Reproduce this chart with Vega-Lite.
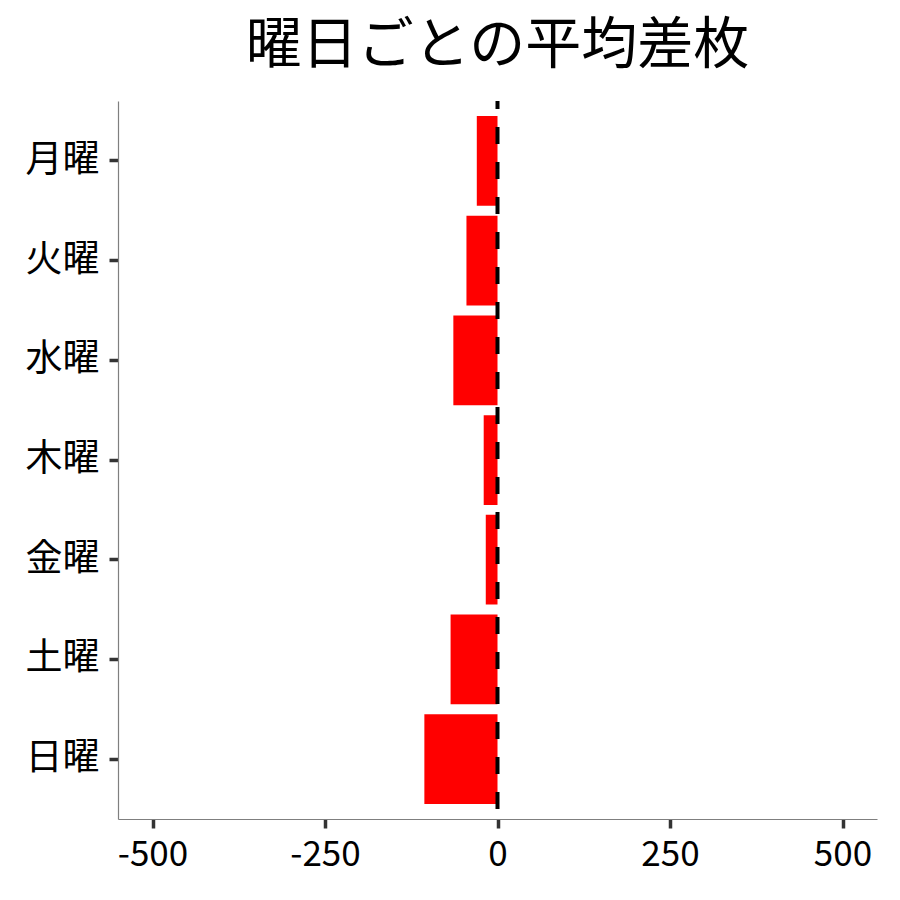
{
  "$schema": "https://vega.github.io/schema/vega-lite/v6.json",
  "autosize": "none",
  "width": 759,
  "height": 718,
  "padding": {"left": 118, "top": 101, "right": 23, "bottom": 81},
  "background": "white",
  "config": {
    "view": {"stroke": null},
    "font": "Noto Sans CJK JP"
  },
  "title": {
    "text": "曜日ごとの平均差枚",
    "fontSize": 56,
    "fontWeight": "normal",
    "color": "black",
    "anchor": "middle",
    "frame": "group",
    "baseline": "bottom",
    "offset": 26,
    "dy": 58
  },
  "datasets": {
    "bars": [
      {"day": "月曜", "diff": -30},
      {"day": "火曜", "diff": -45},
      {"day": "水曜", "diff": -64},
      {"day": "木曜", "diff": -20},
      {"day": "金曜", "diff": -17},
      {"day": "土曜", "diff": -68},
      {"day": "日曜", "diff": -106}
    ],
    "ref": [{"x": 0}]
  },
  "layer": [
    {
      "data": {"name": "bars"},
      "mark": {"type": "bar", "color": "#ff0000"},
      "encoding": {
        "y": {
          "field": "day",
          "type": "nominal",
          "sort": ["月曜", "火曜", "水曜", "木曜", "金曜", "土曜", "日曜"],
          "scale": {"paddingInner": 0.1, "paddingOuter": 0.15},
          "axis": {
            "title": null,
            "labelFontSize": 37,
            "labelColor": "black",
            "labelPadding": 10,
            "tickSize": 9,
            "tickWidth": 3.5,
            "tickColor": "#333333",
            "domainColor": "#7f7f7f",
            "domainWidth": 1.2,
            "grid": false
          }
        },
        "x": {
          "field": "diff",
          "type": "quantitative",
          "scale": {"domain": [-550, 550], "nice": false, "zero": false},
          "axis": {
            "title": null,
            "values": [-500, -250, 0, 250, 500],
            "labelExpr": "replace(datum.label, '−', '-')",
            "labelFontSize": 35,
            "labelColor": "black",
            "labelPadding": 9,
            "tickSize": 9,
            "tickWidth": 3.5,
            "tickColor": "#333333",
            "domainColor": "#7f7f7f",
            "domainWidth": 1.2,
            "grid": false
          }
        }
      }
    },
    {
      "data": {"name": "ref"},
      "mark": {"type": "rule", "color": "black", "strokeWidth": 4, "strokeDash": [17, 18], "strokeDashOffset": 9},
      "encoding": {
        "x": {"field": "x", "type": "quantitative"}
      }
    }
  ]
}
